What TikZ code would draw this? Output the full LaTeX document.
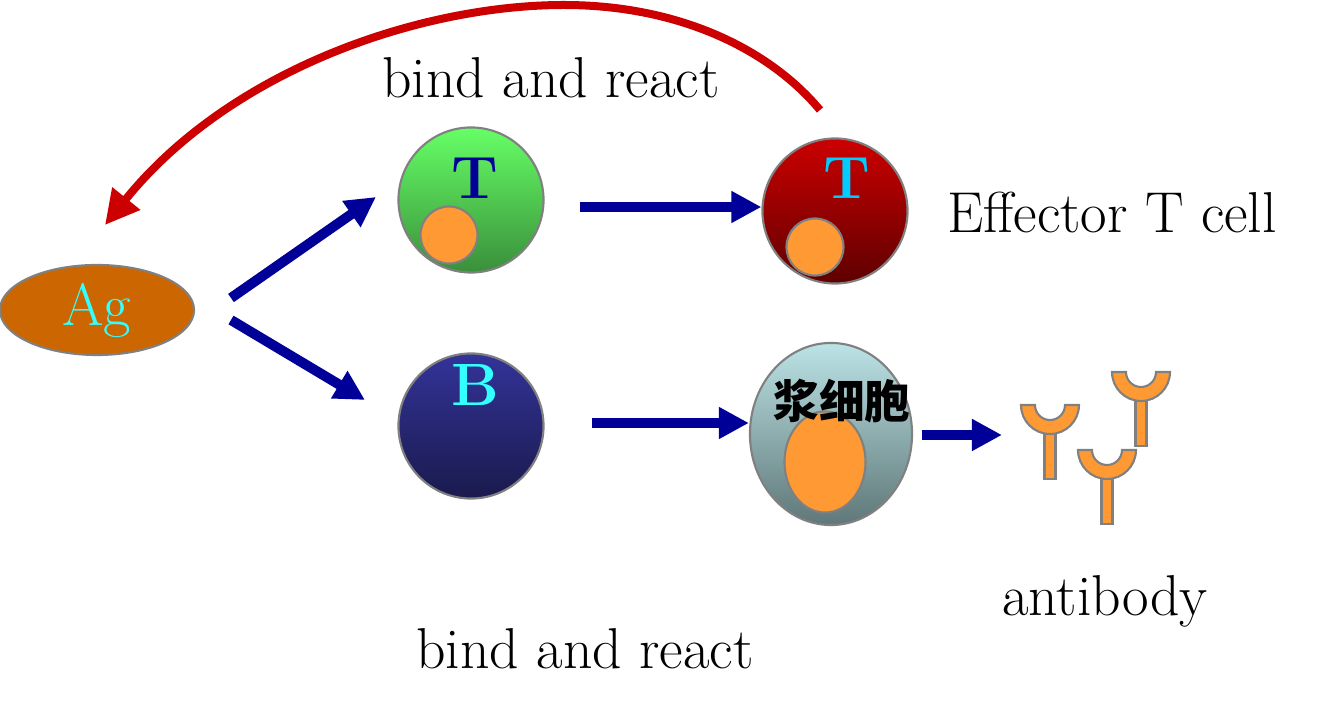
\documentclass[tikz,border=0pt]{standalone}
\usepackage{fontspec}
\newfontfamily\cjk{Noto Sans CJK SC}
\usepackage{tikz}
\usetikzlibrary{shapes, arrows.meta}

\definecolor{flowblue}{HTML}{000099}
\definecolor{loopred}{HTML}{CC0000}
\definecolor{agorange}{HTML}{CC6600}
\definecolor{nucorange}{HTML}{FF9933}
\definecolor{cellrim}{HTML}{808080}
\definecolor{tgreentop}{HTML}{66FF66}
\definecolor{tgreenbot}{HTML}{3A8F3A}
\definecolor{teffbot}{HTML}{5E0000}
\definecolor{bbluetop}{HTML}{333399}
\definecolor{bbluebot}{HTML}{1A1A4D}
\definecolor{plasmatop}{HTML}{BCE3E6}
\definecolor{plasmabot}{HTML}{5F7778}
\definecolor{tagcyan}{HTML}{33FFFF}
\definecolor{tagsky}{HTML}{00CCFF}

\begin{document}
\begin{tikzpicture}[x=0.01cm, y=0.01cm,
  cell/.style={circle, draw=cellrim, line width=0.6pt, minimum size=1.45cm, inner sep=0pt},
  nucleus/.style={circle, draw=cellrim, line width=0.6pt, fill=nucorange, minimum size=0.57cm, inner sep=0pt},
  tag/.style={font=\fontsize{17}{20}\selectfont\bfseries},
  words/.style={font=\fontsize{16.4}{19}\selectfont},
  flow/.style={draw=flowblue, line width=0.1cm, -{Triangle[length=0.3cm, width=0.3cm]}},
  feedback/.style={draw=loopred, line width=0.08cm, -{Triangle[length=0.34cm, width=0.34cm]}},
  antibody/.style={fill=nucorange, draw=cellrim, line width=0.6pt}]
\useasboundingbox (0,0) rectangle (1344,712);

\node[ellipse, draw=cellrim, line width=0.6pt, fill=agorange, minimum width=1.94cm, minimum height=0.9cm, inner sep=0pt, text=tagcyan, font=\fontsize{17}{20}\selectfont] (ag) at (97,402) {Ag};

\node[cell, top color=tgreentop, bottom color=tgreenbot] (tcell) at (471,512) {};
\node[nucleus] (tnuc) at (449,477) {};
\node[tag, text=flowblue] (tname) at (475,534) {T};

\node[cell, top color=loopred, bottom color=teffbot] (teff) at (835,501) {};
\node[nucleus] (teffnuc) at (815,465) {};
\node[tag, text=tagsky] (teffname) at (847,534) {T};

\node[cell, top color=bbluetop, bottom color=bbluebot] (bcell) at (471,286) {};
\node[tag, text=tagcyan] (bname) at (475,327) {B};

\node[ellipse, draw=cellrim, line width=0.6pt, top color=plasmatop, bottom color=plasmabot, minimum width=1.62cm, minimum height=1.82cm, inner sep=0pt] (plasma) at (831,278) {};
\node[ellipse, draw=cellrim, line width=0.6pt, fill=nucorange, minimum width=0.81cm, minimum height=1.01cm, inner sep=0pt] (plasmanuc) at (825,250) {};
\node[font=\cjk\bfseries\fontsize{13}{15}\selectfont] (plasmaname) at (842,311) {浆细胞};

\node[words] (bindtop) at (551,634) {bind and react};
\node[words] (bindbot) at (585,63) {bind and react};
\node[words] (effname) at (1112,500) {Effector T cell};
\node[words] (abname) at (1105,111) {antibody};

% arrows
\coordinate (agup) at (231,414);
\coordinate (tin) at (376,515);
\coordinate (agdown) at (231,392);
\coordinate (bin) at (365,312);
\coordinate (t1) at (580,505);
\coordinate (b1) at (592,289);
\coordinate (p1) at (922,277);
\coordinate (abin) at (1002,277);
\coordinate (loopstart) at (820,602);
\coordinate (loopend) at (105,487);
\draw[flow] (agup) -- (tin);
\draw[flow] (agdown) -- (bin);
\draw[flow] (t1) -- (t1 -| teff.west);
\draw[flow] (b1) -- (b1 -| plasma.west);
\draw[flow] (p1) -- (abin);
\draw[feedback] (loopstart) .. controls (770,662) and (680,707) .. (564,707) .. controls (420,707) and (230,642) .. (loopend);

% antibodies
\foreach \cx/\cy in {1050/307, 1141/340, 1107/262}{
  \draw[antibody] (\cx-5.5,\cy-27) rectangle (\cx+5.5,\cy-74);
  \draw[antibody] (\cx-29,\cy) arc[start angle=180, end angle=360, radius=29] -- (\cx+15,\cy) arc[start angle=0, end angle=-180, radius=15] -- cycle;
}
\end{tikzpicture}
\end{document}
